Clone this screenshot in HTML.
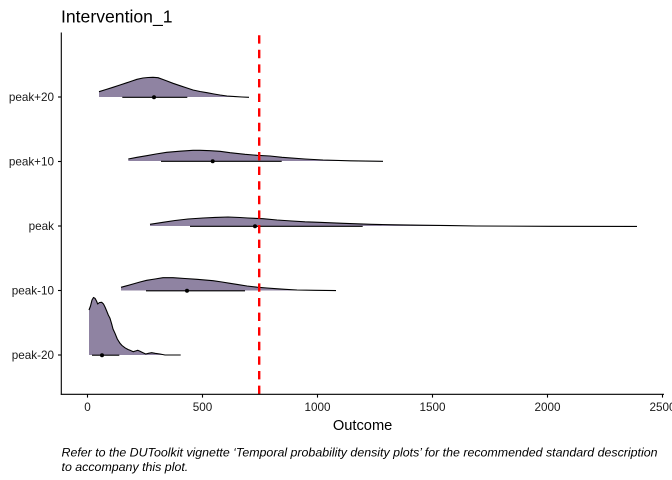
<!DOCTYPE html>
<html>
<head>
<meta charset="utf-8">
<style>
  html, body { margin: 0; padding: 0; background: #ffffff; }
  svg { display: block; }
  text { font-family: "Liberation Sans", Arial, sans-serif; }
</style>
</head>
<body>
<svg width="672" height="480" viewBox="0 0 672 480" xmlns="http://www.w3.org/2000/svg">
  <rect width="672" height="480" fill="#ffffff"/>

  <!-- Title -->
  <text x="61" y="22.3" font-size="17.6" fill="#000">Intervention_1</text>

  <!-- Ridges -->
  <g fill="#8F83A2" stroke="none">
    <polygon points="99,97 99,91.7 106,89.5 113,87.3 120,85 127,82.7 132,81 137,79.3 143,78 148,77.5 153,77.3 158,77.7 163,79.5 167,81 173,83.3 180,85.7 187,88 193,90 200,91.5 207,92.7 214,94 220,95 227,96 235,96.6 242,97 249,97"/>
    <polygon points="128.3,161 128.3,159 137,157.3 146.7,155.7 156,154 166.7,152.3 180,151.2 193,150.3 200,150.3 210,150.7 220,151.3 230,152.7 245,154.3 257,155.3 270,156 282,157.3 305,159 323,160 350,160.8 383,161"/>
    <polygon points="150,226 150,224.3 163,222.3 175,220.5 188,219 203,218 215,217.4 228,217 240,217.5 248,218 263,218.7 277,220 292,221 305,221.8 319,222.3 331,222.8 343,223.3 357,223.8 371,224.3 395,224.8 419,225.2 450,225.6 476,226"/>
    <polygon points="121,290.5 121,287.3 127,285.7 133,284 140,282 146.7,280.3 155,279 163,277.7 173,277.7 185,278.5 197,279.3 213,280.7 222,282 230,283.3 238,284.6 247,286 257,287.2 267,288 276,288.7 285,289.3 297,290 315,290.3 336,290.5"/>
    <polygon points="89,355 89,310 90.5,306 92,300 93.5,297.5 95,298.3 96.5,301 97.7,304 99.5,302.5 101.7,302.3 103.5,304 105,307 106.7,311 108.3,315 110,318.3 111.7,324 113,329 115,333.3 117.3,339 120,343.3 122,345.5 125,347.8 128,349.5 130,350.3 133.3,351.7 135.5,351 137.7,350.3 140,351.3 143,352.7 145.7,354 148.5,353.3 151.7,352.7 155,353.3 160,354 165,355"/>
  </g>

  <!-- Ridge outlines (top only) -->
  <g fill="none" stroke="#000" stroke-width="1.1" stroke-linejoin="round">
    <polyline points="99,91.7 106,89.5 113,87.3 120,85 127,82.7 132,81 137,79.3 143,78 148,77.5 153,77.3 158,77.7 163,79.5 167,81 173,83.3 180,85.7 187,88 193,90 200,91.5 207,92.7 214,94 220,95 227,96 235,96.6 242,97 249,97.3"/>
    <polyline points="128.3,159 137,157.3 146.7,155.7 156,154 166.7,152.3 180,151.2 193,150.3 200,150.3 210,150.7 220,151.3 230,152.7 245,154.3 257,155.3 270,156 282,157.3 305,159 323,160 350,160.8 383,161.3"/>
    <polyline points="150,224.3 163,222.3 175,220.5 188,219 203,218 215,217.4 228,217 240,217.5 248,218 263,218.7 277,220 292,221 305,221.8 319,222.3 331,222.8 343,223.3 357,223.8 371,224.3 395,224.8 419,225.2 450,225.6 476,226 550,226.3 637,226.4"/>
    <polyline points="121,287.3 127,285.7 133,284 140,282 146.7,280.3 155,279 163,277.7 173,277.7 185,278.5 197,279.3 213,280.7 222,282 230,283.3 238,284.6 247,286 257,287.2 267,288 276,288.7 285,289.3 297,290 315,290.3 336,290.6"/>
    <polyline points="89,310 90.5,306 92,300 93.5,297.5 95,298.3 96.5,301 97.7,304 99.5,302.5 101.7,302.3 103.5,304 105,307 106.7,311 108.3,315 110,318.3 111.7,324 113,329 115,333.3 117.3,339 120,343.3 122,345.5 125,347.8 128,349.5 130,350.3 133.3,351.7 135.5,351 137.7,350.3 140,351.3 143,352.7 145.7,354 148.5,353.3 151.7,352.7 155,353.3 160,354 165,355 172,355 180.7,355"/>
  </g>

  <!-- Interval lines and medians -->
  <g stroke="#000" stroke-width="1.2">
    <line x1="122.3" y1="97.3" x2="187.3" y2="97.3"/>
    <line x1="161" y1="161.3" x2="281.7" y2="161.3"/>
    <line x1="190" y1="226.3" x2="362.7" y2="226.3"/>
    <line x1="146" y1="290.8" x2="245" y2="290.8"/>
    <line x1="92" y1="355.2" x2="119.3" y2="355.2"/>
  </g>
  <g fill="#000">
    <circle cx="154" cy="97.3" r="2"/>
    <circle cx="212.7" cy="161.3" r="2"/>
    <circle cx="255" cy="226.3" r="2"/>
    <circle cx="187" cy="290.8" r="2"/>
    <circle cx="102" cy="355.2" r="2"/>
  </g>

  <!-- Dashed reference line -->
  <line x1="259.2" y1="394" x2="259.2" y2="32.5" stroke="#FF0000" stroke-width="2.4" stroke-dasharray="8.4 6.2"/>

  <!-- Axes -->
  <g stroke="#000" stroke-width="1.1">
    <line x1="61.3" y1="32.5" x2="61.3" y2="394.8"/>
    <line x1="60.8" y1="394.3" x2="664" y2="394.3"/>
    <line x1="58" y1="97" x2="61.3" y2="97"/>
    <line x1="58" y1="161.5" x2="61.3" y2="161.5"/>
    <line x1="58" y1="226" x2="61.3" y2="226"/>
    <line x1="58" y1="290.5" x2="61.3" y2="290.5"/>
    <line x1="58" y1="355" x2="61.3" y2="355"/>
    <line x1="87.5" y1="394.3" x2="87.5" y2="397.6"/>
    <line x1="202.5" y1="394.3" x2="202.5" y2="397.6"/>
    <line x1="317.5" y1="394.3" x2="317.5" y2="397.6"/>
    <line x1="432.5" y1="394.3" x2="432.5" y2="397.6"/>
    <line x1="547.5" y1="394.3" x2="547.5" y2="397.6"/>
    <line x1="662.5" y1="394.3" x2="662.5" y2="397.6"/>
  </g>

  <!-- Y labels -->
  <g font-size="11.7" fill="#1a1a1a" text-anchor="end">
    <text x="54" y="101.2">peak+20</text>
    <text x="54" y="165.7">peak+10</text>
    <text x="54" y="230.2">peak</text>
    <text x="54" y="294.7">peak-10</text>
    <text x="54" y="359.2">peak-20</text>
  </g>

  <!-- X labels -->
  <g font-size="11.7" fill="#1a1a1a" text-anchor="middle">
    <text x="87.5" y="411">0</text>
    <text x="202.5" y="411">500</text>
    <text x="317.5" y="411">1000</text>
    <text x="432.5" y="411">1500</text>
    <text x="547.5" y="411">2000</text>
    <text x="662.5" y="411">2500</text>
  </g>

  <!-- Axis title -->
  <text x="362.6" y="430" font-size="14.67" fill="#000" text-anchor="middle">Outcome</text>

  <!-- Caption -->
  <g font-size="12.4" font-style="italic" fill="#000">
    <text x="61.5" y="456.7" textLength="596" lengthAdjust="spacingAndGlyphs">Refer to the DUToolkit vignette ‘Temporal probability density plots’ for the recommended standard description</text>
    <text x="61.5" y="471">to accompany this plot.</text>
  </g>
</svg>
</body>
</html>
